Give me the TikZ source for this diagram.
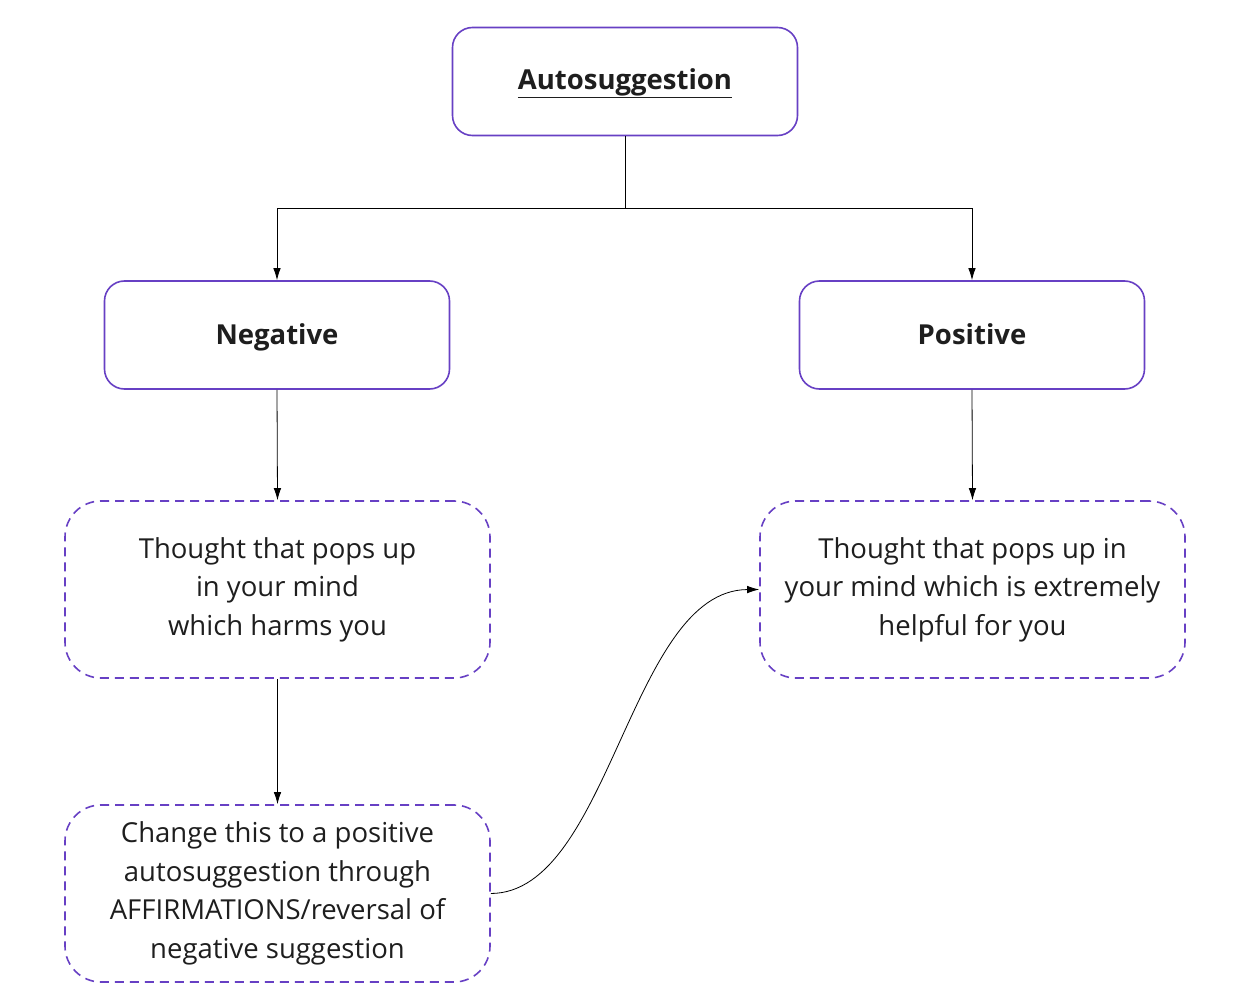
\documentclass[tikz,border=0pt]{standalone}
\usepackage{fontspec}
\setmainfont{Open Sans}
\usetikzlibrary{arrows.meta}
\definecolor{boxpurple}{RGB}{103,64,196}
\definecolor{txt}{RGB}{30,30,30}
\tikzset{
  solidbox/.style={draw=boxpurple, line width=1.6pt, rounded corners=20pt, minimum width=345pt, minimum height=108pt, align=center, font=\bfseries\fontsize{27.5}{36}\selectfont, text=txt, text height=19.6pt, text depth=0pt},
  dashbox/.style={draw=boxpurple, line width=1.6pt, dash pattern=on 9pt off 6pt, rounded corners=36pt, minimum width=425pt, minimum height=177pt, align=center, font=\fontsize{27.5}{38.5}\selectfont, text=txt},
  conn/.style={draw=black, line width=0.8pt, -{Latex[length=12pt,width=7.5pt]}},
}
\begin{document}
\begin{tikzpicture}[x=1pt,y=-1pt]
\useasboundingbox (0,0) rectangle (1248,1006);
\fill[white] (0,0) rectangle (1248,1006);
\node[solidbox] (auto) at (625,81.5) {\raisebox{2pt}{\underline{Autosuggestion}}};
\node[solidbox] (neg) at (277,335) {Negative};
\node[solidbox] (pos) at (972,335) {Positive};
\node[dashbox] (tneg) at (277.5,589.5) {Thought that pops up\\in your mind\\which harms you};
\node[dashbox] (tpos) at (972.5,589.5) {Thought that pops up in\\your mind which is extremely\\helpful for you};
\node[dashbox] (chg) at (277.5,893.5) {Change this to a positive\\autosuggestion through\\AFFIRMATIONS/reversal of\\negative suggestion};
\coordinate (split) at (625,208);
\draw[line width=0.8pt] (auto.south) -- (split);
\draw[conn] (split) -| (neg.north);
\draw[conn] (split) -| (pos.north);
\draw[conn] (neg.south) -- (tneg.north);
\draw[conn] (pos.south) -- (tpos.north);
\draw[conn] (tneg.south) -- (chg.north);
\draw[conn] (chg.east) .. controls (610,893) and (630,590) .. (tpos.west);
\end{tikzpicture}
\end{document}
